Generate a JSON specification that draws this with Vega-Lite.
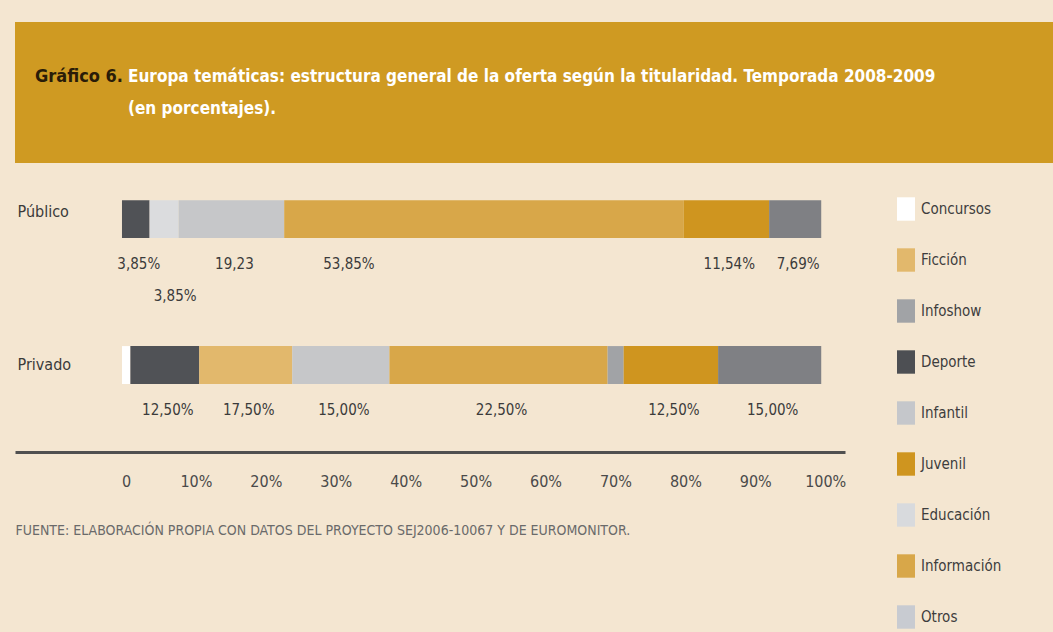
{
  "$schema": "https://vega.github.io/schema/vega-lite/v6.json",
  "background": "#f4e6d1",
  "padding": {"left": 15, "top": 22, "right": 0, "bottom": 3},
  "config": {
    "view": {"stroke": null},
    "font": "Liberation Sans Narrow, DejaVu Sans Condensed, Roboto, sans-serif"
  },
  "title": {
    "text": "Gráfico 6.",
    "anchor": "start",
    "orient": "top",
    "frame": "group",
    "baseline": "top",
    "offset": -64,
    "dx": 20,
    "fontSize": 18,
    "fontWeight": "bold",
    "color": "#2a1c08"
  },
  "spacing": 12,
  "vconcat": [
    {
      "width": 1038,
      "height": 141,
      "view": {"fill": "#cf9a22", "stroke": null},
      "data": {"values": [{"t": ""}]},
      "mark": {"type": "text"},
      "encoding": {"text": {"field": "t"}},
      "title": {
        "text": ["Europa temáticas: estructura general de la oferta según la titularidad. Temporada 2008-2009", "(en porcentajes)."],
        "anchor": "start",
        "orient": "top",
        "frame": "group",
        "baseline": "top",
        "offset": -96,
        "dx": 113,
        "lineHeight": 32,
        "fontSize": 17,
        "fontWeight": "bold",
        "color": "#ffffff"
      }
    },
    {
      "width": 830,
      "height": 277,
      "data": {
        "values": [
          {"tit": "Público", "cat": "Deporte", "pct": 3.95, "label": "3,85%"},
          {"tit": "Público", "cat": "Educación", "pct": 4.15, "label": "3,85%"},
          {"tit": "Público", "cat": "Infantil", "pct": 15.1, "label": "19,23"},
          {"tit": "Público", "cat": "Información", "pct": 57.1, "label": "53,85%"},
          {"tit": "Público", "cat": "Juvenil", "pct": 12.25, "label": "11,54%"},
          {"tit": "Público", "cat": "Otros", "pct": 7.45, "label": "7,69%"},
          {"tit": "Privado", "cat": "Concursos", "pct": 1.2, "label": ""},
          {"tit": "Privado", "cat": "Deporte", "pct": 9.85, "label": "12,50%"},
          {"tit": "Privado", "cat": "Ficción", "pct": 13.3, "label": "17,50%"},
          {"tit": "Privado", "cat": "Infantil", "pct": 13.9, "label": "15,00%"},
          {"tit": "Privado", "cat": "Información", "pct": 31.2, "label": "22,50%"},
          {"tit": "Privado", "cat": "Infoshow", "pct": 2.3, "label": ""},
          {"tit": "Privado", "cat": "Juvenil", "pct": 13.5, "label": "12,50%"},
          {"tit": "Privado", "cat": "Otros", "pct": 14.75, "label": "15,00%"}
        ]
      },
      "transform": [
        {"stack": "pct", "groupby": ["tit"], "as": ["x0", "x1"]}
      ],
      "encoding": {
        "y": {
          "field": "tit",
          "type": "nominal",
          "scale": {"domain": ["Público", "Privado"], "paddingInner": 0.74, "paddingOuter": 0.319, "align": 0.27},
          "axis": {
            "title": null,
            "orient": "left",
            "ticks": false,
            "domain": false,
            "labelAlign": "left",
            "labelBaseline": "middle",
            "labelPadding": -2,
            "labelOffset": {"condition": {"test": "datum.value == 'Público'", "value": -7}, "value": 0},
            "labelFontSize": 16,
            "labelColor": "#3a3a3a"
          }
        }
      },
      "layer": [
        {
          "mark": {"type": "bar"},
          "encoding": {
            "x": {
              "field": "x0",
              "type": "quantitative",
              "scale": {"domain": [-15.3, 103.4], "nice": false, "zero": false},
              "axis": {
                "values": [0, 10, 20, 30, 40, 50, 60, 70, 80, 90, 100],
                "labelExpr": "datum.value == 0 ? '0' : datum.value + '%'",
                "grid": false,
                "ticks": false,
                "domainColor": "#505050",
                "domainWidth": 3,
                "labelPadding": 21,
                "labelOffset": 4,
                "labelFontSize": 16,
                "labelColor": "#4a4a4a",
                "title": "FUENTE: ELABORACIÓN PROPIA CON DATOS DEL PROYECTO SEJ2006-10067 Y DE EUROMONITOR.",
                "titleAnchor": "start",
                "titleFontSize": 14,
                "titleFontWeight": "normal",
                "titleColor": "#6a6a6a",
                "titlePadding": 34
              }
            },
            "x2": {"field": "x1"},
            "fill": {
              "field": "cat",
              "type": "nominal",
              "scale": {
                "domain": ["Concursos", "Deporte", "Educación", "Ficción", "Infantil", "Información", "Infoshow", "Juvenil", "Otros"],
                "range": ["#ffffff", "#505256", "#dbdcde", "#e2b86c", "#c6c7c9", "#d8a749", "#a1a3a6", "#cf951f", "#7f8084"]
              },
              "legend": null
            }
          }
        },
        {
          "data": {
            "values": [
              {"tipo": "Concursos"}, {"tipo": "Ficción"}, {"tipo": "Infoshow"},
              {"tipo": "Deporte"}, {"tipo": "Infantil"}, {"tipo": "Juvenil"},
              {"tipo": "Educación"}, {"tipo": "Información"}, {"tipo": "Otros"}
            ]
          },
          "mark": {"type": "square", "size": 0, "opacity": 1},
          "encoding": {
            "color": {
              "field": "tipo",
              "type": "nominal",
              "scale": {
                "domain": ["Concursos", "Ficción", "Infoshow", "Deporte", "Infantil", "Juvenil", "Educación", "Información", "Otros"],
                "range": ["#ffffff", "#e2b86c", "#a1a3a6", "#4d4f53", "#c5c7cb", "#cf951f", "#d8dadd", "#d8a749", "#c8cbd1"]
              },
              "legend": {
                "orient": "none",
                "legendX": 882,
                "legendY": 178,
                "title": null,
                "padding": 0,
                "symbolType": "M-1,-1.3H1V1.3H-1Z",
                "symbolSize": 324,
                "symbolStrokeWidth": 0,
                "symbolOpacity": 1,
                "labelFontSize": 15,
                "labelColor": "#3d3d3d",
                "labelOffset": 6,
                "rowPadding": 27
              }
            }
          }
        },
        {
          "transform": [
            {"filter": "datum.label != '' && !(datum.tit == 'Público' && (datum.cat == 'Educación' || datum.cat == 'Información'))"},
            {"fold": ["x0", "x1"], "as": ["k", "v"]}
          ],
          "mark": {"type": "text", "dy": 45, "dx": 3, "baseline": "middle", "fontSize": 15, "color": "#3b3b3b"},
          "encoding": {
            "x": {"field": "v", "aggregate": "mean", "type": "quantitative"},
            "detail": {"field": "cat"},
            "text": {"field": "label"}
          }
        },
        {
          "transform": [
            {"filter": "datum.tit == 'Público' && datum.cat == 'Educación'"},
            {"fold": ["x0", "x1"], "as": ["k", "v"]}
          ],
          "mark": {"type": "text", "dy": 77, "dx": 11, "baseline": "middle", "fontSize": 15, "color": "#3b3b3b"},
          "encoding": {
            "x": {"field": "v", "aggregate": "mean", "type": "quantitative"},
            "detail": {"field": "cat"},
            "text": {"field": "label"}
          }
        },
        {
          "transform": [{"filter": "datum.tit == 'Público' && datum.cat == 'Información'"}],
          "mark": {"type": "text", "dy": 45, "dx": 39, "align": "left", "baseline": "middle", "fontSize": 15, "color": "#3b3b3b"},
          "encoding": {
            "x": {"field": "x0", "type": "quantitative"},
            "text": {"field": "label"}
          }
        }
      ]
    }
  ]
}
